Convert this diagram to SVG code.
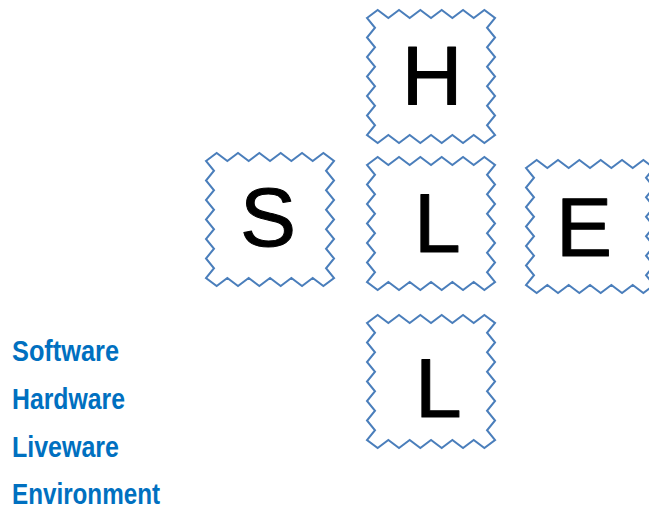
<svg xmlns="http://www.w3.org/2000/svg" width="649" height="509" viewBox="0 0 649 509">
<style>
.box{fill:#fff;stroke:#4a7ebb;stroke-width:2;stroke-linejoin:miter}
.big{font-family:"Liberation Sans",Arial,sans-serif;font-size:84px;fill:#000;stroke:#000;stroke-width:1;stroke-linejoin:round}
.lbl{font-family:"Liberation Sans",Arial,sans-serif;font-weight:bold;font-size:30px;fill:#0070c0}
</style>
<defs>
<path id="zz" class="box" d="M0,8 l10.67,-8 l10.67,8 l10.67,-8 l10.67,8 l10.67,-8 l10.67,8 l10.67,-8 l10.67,8 l10.67,-8 l10.67,8 l10.67,-8 l10.67,8 l-8,9.75 l8,9.75 l-8,9.75 l8,9.75 l-8,9.75 l8,9.75 l-8,9.75 l8,9.75 l-8,9.75 l8,9.75 l-8,9.75 l8,9.75 l-10.67,8 l-10.67,-8 l-10.67,8 l-10.67,-8 l-10.67,8 l-10.67,-8 l-10.67,8 l-10.67,-8 l-10.67,8 l-10.67,-8 l-10.67,8 l-10.67,-8 l8,-9.75 l-8,-9.75 l8,-9.75 l-8,-9.75 l8,-9.75 l-8,-9.75 l8,-9.75 l-8,-9.75 l8,-9.75 l-8,-9.75 l8,-9.75 l-8,-9.75 Z"/>
</defs>
<g id="connectors"></g>
<g id="node-H"><use href="#zz" transform="translate(367,10)"/><text class="big" x="432" y="105" text-anchor="middle">H</text></g>
<g id="node-S"><use href="#zz" transform="translate(206,153)"/><text class="big" x="268" y="246" text-anchor="middle">S</text></g>
<g id="node-L"><use href="#zz" transform="translate(367,157)"/><text class="big" x="414" y="252">L</text></g>
<g id="node-E"><use href="#zz" transform="translate(526,160)"/><text class="big" x="556" y="256">E</text></g>
<g id="node-L2"><use href="#zz" transform="translate(367,315)"/><text class="big" x="415" y="417">L</text></g>
<g id="legend">
<text class="lbl" x="12" y="361" textLength="107" lengthAdjust="spacingAndGlyphs">Software</text>
<text class="lbl" x="12" y="409" textLength="113" lengthAdjust="spacingAndGlyphs">Hardware</text>
<text class="lbl" x="12" y="457" textLength="107" lengthAdjust="spacingAndGlyphs">Liveware</text>
<text class="lbl" x="12" y="504" textLength="148" lengthAdjust="spacingAndGlyphs">Environment</text>
</g>
</svg>
